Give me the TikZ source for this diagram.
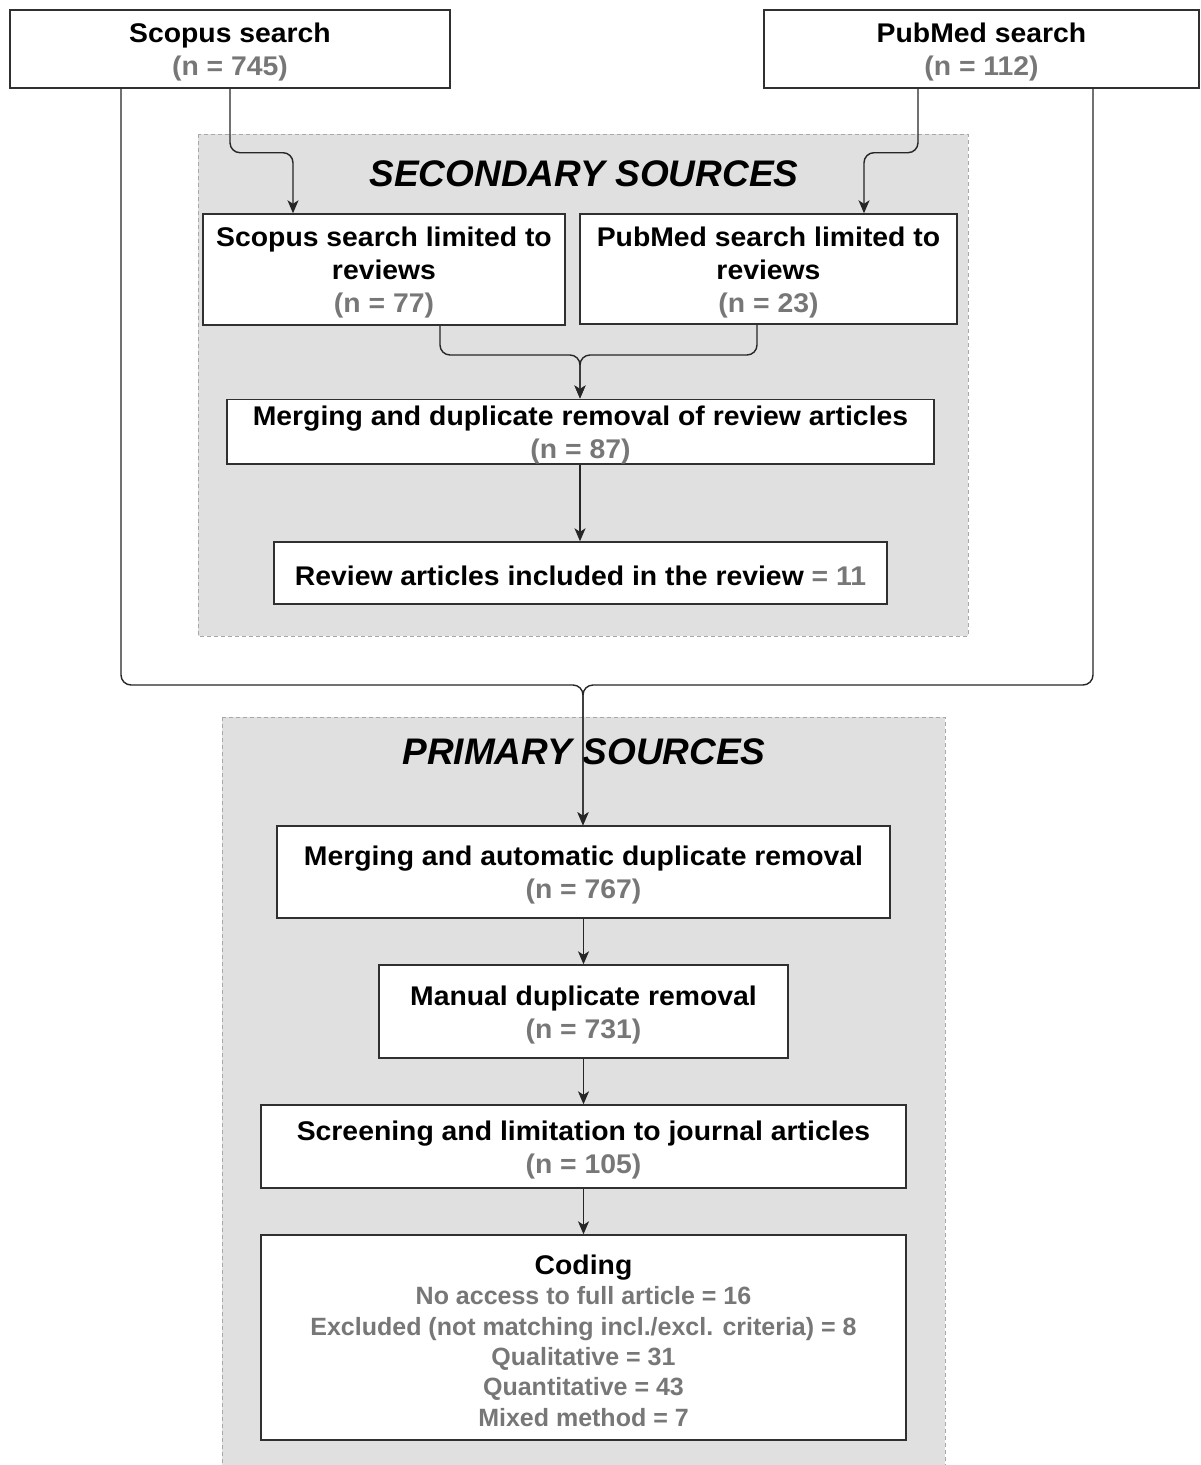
\documentclass[tikz,border=0pt]{standalone}
\usepackage{fontspec}
\setmainfont{Liberation Sans}[FakeStretch=1.05]
\newfontfamily\plainfont{Liberation Sans}
\usetikzlibrary{arrows.meta,calc}
\definecolor{ngray}{HTML}{777777}
\definecolor{grpfill}{HTML}{E0E0E0}
\definecolor{grpline}{HTML}{A8A8A8}
\definecolor{boxline}{HTML}{303030}
\newcommand{\tstrut}{\rule{0pt}{26pt}}
\newcommand{\cdl}[1]{{\plainfont\fontsize{25}{30.4}\selectfont\bfseries\textcolor{ngray}{#1}}}
\begin{document}
\begin{tikzpicture}[x=1pt,y=-1pt,
  box/.style={draw=boxline, line width=1.4pt, fill=white, align=center, inner sep=0pt,
    font=\fontsize{27}{33}\selectfont\bfseries},
  grp/.style={draw=grpline, fill=grpfill, line width=1pt, dash pattern=on 4pt off 3pt},
  gtitle/.style={font=\plainfont\fontsize{37}{44}\selectfont\bfseries\itshape, inner sep=0pt},
  conn/.style={draw=black!85, line width=1.4pt, rounded corners=10pt,
    -{Stealth[length=13pt,width=11pt,inset=3.5pt]}},
  plain/.style={draw=black!85, line width=1.4pt, rounded corners=10pt}
]
\clip (0,0) rectangle (1200,1465);
\fill[white] (0,0) rectangle (1200,1465);

% groups
\path[grp] (198,134) rectangle (968,636);
\path[grp] (222,717) rectangle (945,1480);
\node[gtitle] (sect) at (584,174) {SECONDARY SOURCES};
\node[gtitle] (primt) at (584,752) {PRIMARY SOURCES};

% top boxes
\node[box, minimum width=440pt, minimum height=78pt] (scopus) at (230,49)
  {\tstrut Scopus search\\ \textcolor{ngray}{(n = 745)}};
\node[box, minimum width=435pt, minimum height=78pt] (pubmed) at (981.5,49)
  {\tstrut PubMed search\\ \textcolor{ngray}{(n = 112)}};

% secondary
\node[box, minimum width=362pt, minimum height=111pt] (slim) at (384,269.5)
  {\tstrut Scopus search limited to\\ reviews\\ \textcolor{ngray}{(n = 77)}};
\node[box, minimum width=377pt, minimum height=110pt] (plim) at (768.5,269)
  {\tstrut PubMed search limited to\\ reviews\\ \textcolor{ngray}{(n = 23)}};
\node[box, minimum width=707pt, minimum height=63pt] (mrev) at (580.5,431.5)
  {\tstrut Merging and duplicate removal of review articles\\ \textcolor{ngray}{(n = 87)}};
\node[box, minimum width=613pt, minimum height=62pt] (rinc) at (580.5,573)
  {\tstrut Review articles included in the review \textcolor{ngray}{= 11}};

% primary
\node[box, minimum width=613pt, minimum height=92pt] (mauto) at (583.5,872)
  {\tstrut Merging and automatic duplicate removal\\ \textcolor{ngray}{(n = 767)}};
\node[box, minimum width=409pt, minimum height=93pt] (manual) at (583.5,1011.5)
  {\tstrut Manual duplicate removal\\ \textcolor{ngray}{(n = 731)}};
\node[box, minimum width=645pt, minimum height=83pt] (screen) at (583.5,1146.5)
  {\tstrut Screening and limitation to journal articles\\ \textcolor{ngray}{(n = 105)}};
\node[box, minimum width=645pt, minimum height=205pt, font=\fontsize{27}{30.4}\selectfont\bfseries] (coding) at (583.5,1337.5)
  {\tstrut Coding\\
   \cdl{No access to full article = 16}\\
   \cdl{Excluded (not matching incl./excl. criteria) = 8}\\
   \cdl{Qualitative = 31}\\
   \cdl{Quantitative = 43}\\
   \cdl{Mixed method = 7}};

% connectors
\draw[conn] (scopus.south) -- ++(0,64) -| ([xshift=-91pt]slim.north);
\draw[conn] ([xshift=-63.5pt]pubmed.south) -- ++(0,64) -| ([xshift=95.5pt]plim.north);

\coordinate (mj) at (580,355);
\draw[conn] ([xshift=56pt]slim.south) |- (mj) -- (mrev.north -| mj);
\draw[conn] ([xshift=-11.5pt]plim.south) |- (mj) -- (mrev.north -| mj);

\draw[conn] (mrev.south -| 580,0) -- (rinc.north -| 580,0);

\coordinate (pj) at (583,685);
\draw[conn] ([xshift=-109pt]scopus.south) |- (pj) -- (mauto.north -| pj);
\draw[conn] ([xshift=111.5pt]pubmed.south) |- (pj) -- (mauto.north -| pj);

\draw[conn] (mauto.south) -- (manual.north);
\draw[conn] (manual.south) -- (screen.north);
\draw[conn] (screen.south) -- (coding.north);
\end{tikzpicture}
\end{document}
